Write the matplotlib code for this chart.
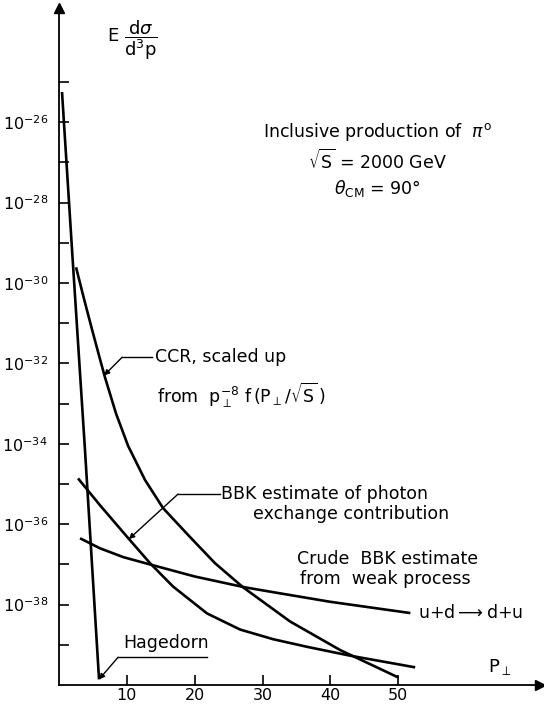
import matplotlib
matplotlib.use("Agg")
import matplotlib.pyplot as plt
import numpy as np

plt.rcParams["font.family"] = ["DejaVu Sans"]
plt.rcParams["mathtext.fontset"] = "dejavusans"

# curves: p_perp and log10 of E d(sigma)/d^3p
hag_pt = [0.44, 1.92, 3.83, 5.9]
hag_log = [-25.25, -29.18, -34.16, -39.86]

ccr_pt = [2.51, 3.69, 4.87, 6.05, 6.78, 8.41, 10.18, 12.68, 15.34, 19.32, 23.0, 27.14,
          34.07, 41.45, 50.0]
ccr_log = [-29.61, -30.40, -31.16, -31.90, -32.35, -33.25, -34.05, -34.90, -35.60,
           -36.32, -36.97, -37.57, -38.42, -39.13, -39.81]

phot_pt = [2.80, 6.05, 10.32, 13.42, 16.81, 21.83, 26.70, 31.56, 36.58, 42.92, 52.51]
phot_log = [-34.86, -35.53, -36.37, -36.97, -37.55, -38.22, -38.62, -38.86, -39.05,
            -39.27, -39.56]

weak_pt = [3.1, 6.05, 9.5, 13.4, 20.0, 27.4, 32.6, 40.0, 51.8]
weak_log = [-36.35, -36.60, -36.82, -37.0, -37.30, -37.57, -37.72, -37.93, -38.21]

ytick_exp = list(range(-39, -24))
ylabel_exp = list(range(-38, -25, 2))
xtick_vals = [10, 20, 30, 40, 50]

fig = plt.figure(figsize=(5.44, 7.06), dpi=100)
ax = fig.add_axes([0.1085, 0.0297, 0.884, 0.959])
ax.set_yscale("log")
ax.set_xlim(0, 70.9)
ax.set_ylim(1e-40, 10 ** -23.16)

lw = 1.9
for pt, lg in [(hag_pt, hag_log), (ccr_pt, ccr_log), (phot_pt, phot_log), (weak_pt, weak_log)]:
    ax.plot(pt, 10.0 ** np.array(lg), color="black", lw=lw, solid_capstyle="butt",
            solid_joinstyle="round")

# axes look: only left/bottom with arrow heads
for s in ["top", "right"]:
    ax.spines[s].set_visible(False)
for s in ["left", "bottom"]:
    ax.spines[s].set_linewidth(1.3)
ax.plot(1, 0, ">k", ms=7, transform=ax.transAxes, clip_on=False)
ax.plot(0, 1, "^k", ms=7, transform=ax.transAxes, clip_on=False)

ax.set_yticks([10.0 ** e for e in ytick_exp])
ax.set_yticklabels([f"$10^{{{e}}}$" if e in ylabel_exp else "" for e in ytick_exp])
ax.yaxis.set_minor_locator(matplotlib.ticker.NullLocator())
ax.set_xticks(xtick_vals)
ax.set_xticklabels([str(v) for v in xtick_vals])
ax.tick_params(direction="in", length=7, width=1.2, labelsize=11.5)
ax.tick_params(axis="y", pad=8)
ax.tick_params(axis="x", pad=2)

fs = 12.5
ax.text(7.0, 10 ** -23.96, r"E $\dfrac{\mathrm{d}\sigma}{\mathrm{d}^3\mathrm{p}}$", fontsize=13,
        va="center", ha="left")

ax.text(47.0, 10 ** -26.25, r"Inclusive production of  $\pi^{\mathrm{o}}$", fontsize=fs,
        ha="center", va="center")
ax.text(47.0, 10 ** -26.97, r"$\sqrt{\mathrm{S}}$ = 2000 GeV", fontsize=fs, ha="center", va="center")
ax.text(47.0, 10 ** -27.64, r"$\theta_{\mathrm{CM}}$ = 90°", fontsize=fs, ha="center", va="center")

arrow = dict(arrowstyle="-|>", color="black", lw=1.0, mutation_scale=8, shrinkA=0, shrinkB=0)

# CCR label
ax.plot([9.29, 13.7], [10 ** -31.85] * 2, color="black", lw=1.0)
ax.annotate("", xy=(6.64, 10 ** -32.30), xytext=(9.29, 10 ** -31.85), arrowprops=arrow)
ax.text(14.2, 10 ** -31.85, "CCR, scaled up", fontsize=fs, va="center", ha="left")
ax.text(14.5, 10 ** -32.79,
        r"from  $\mathrm{p}_\perp^{-8}\ \mathrm{f}\,(\mathrm{P}_\perp/\sqrt{\mathrm{S}}\,)$",
        fontsize=fs, va="center", ha="left")

# photon exchange label
ax.plot([17.55, 23.7], [10 ** -35.25] * 2, color="black", lw=1.0)
ax.annotate("", xy=(10.3, 10 ** -36.37), xytext=(17.55, 10 ** -35.25), arrowprops=arrow)
ax.text(23.9, 10 ** -35.25, "BBK estimate of photon", fontsize=fs, va="center", ha="left")
ax.text(28.6, 10 ** -35.75, "exchange contribution", fontsize=fs, va="center", ha="left")

# weak process label
ax.text(35.1, 10 ** -36.87, "Crude  BBK estimate", fontsize=fs, va="center", ha="left")
ax.text(35.5, 10 ** -37.37, "from  weak process", fontsize=fs, va="center", ha="left")
ax.text(52.9, 10 ** -38.21, r"u+d$\longrightarrow$d+u", fontsize=fs, va="center", ha="left")

# Hagedorn label
ax.plot([8.7, 21.8], [10 ** -39.31] * 2, color="black", lw=1.0)
ax.annotate("", xy=(5.9, 10 ** -39.86), xytext=(8.7, 10 ** -39.31), arrowprops=arrow)
ax.text(9.4, 10 ** -38.96, "Hagedorn", fontsize=fs, va="center", ha="left")

ax.text(65.0, 10 ** -39.56, r"$\mathrm{P}_\perp$", fontsize=13, va="center", ha="center")

fig.savefig("out.png", dpi=100)
